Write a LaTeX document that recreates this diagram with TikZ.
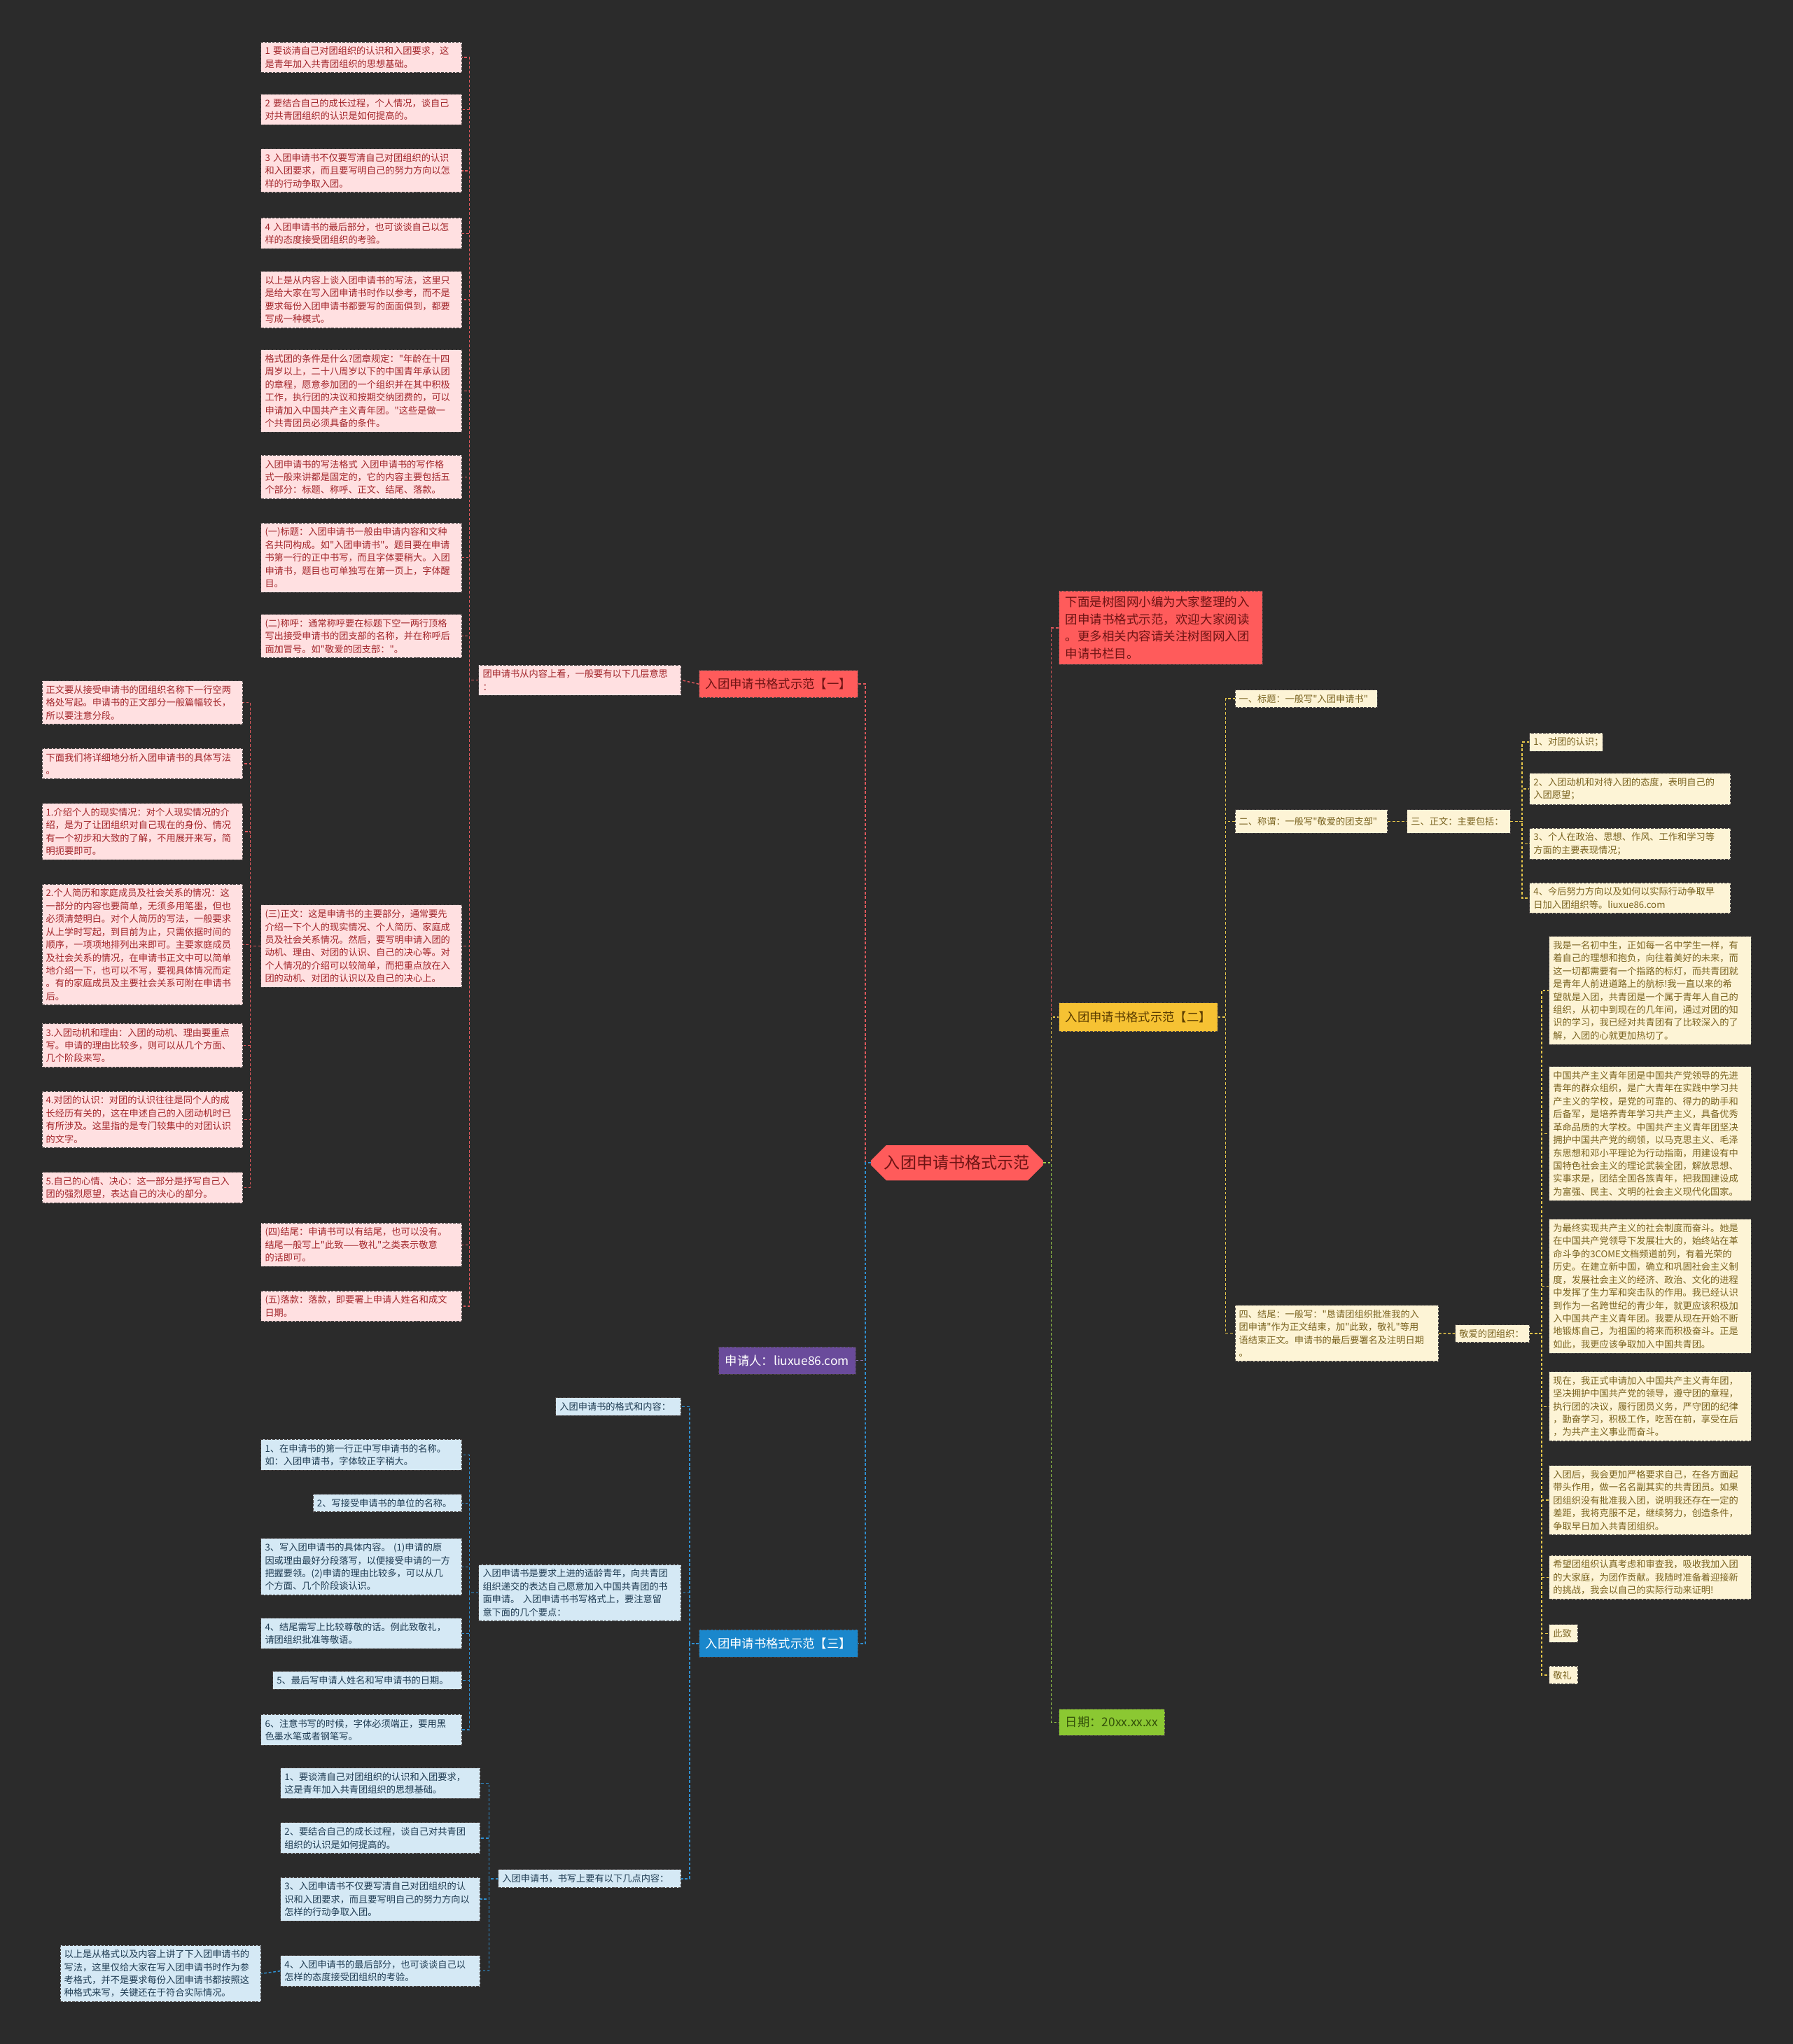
\documentclass[tikz,border=0pt]{standalone}
\usepackage{fontspec}
\newfontfamily\cjk{Noto Sans CJK SC}
\usetikzlibrary{shapes.misc}
\definecolor{bgcol}{HTML}{2B2B2B}
\definecolor{redmain}{HTML}{FF5B5B}
\definecolor{redtext}{HTML}{6E1414}
\definecolor{pinkfill}{HTML}{FFE0E1}
\definecolor{pinktext}{HTML}{A3262B}
\definecolor{pinkline}{HTML}{E0585C}
\definecolor{bluemain}{HTML}{1A87CC}
\definecolor{bluefill}{HTML}{D5E9F5}
\definecolor{bluetext}{HTML}{1E3B52}
\definecolor{blueline}{HTML}{2F8FD0}
\definecolor{purplemain}{HTML}{6A4B9B}
\definecolor{yellowmain}{HTML}{F6C233}
\definecolor{yellowtext}{HTML}{5A3C00}
\definecolor{creamfill}{HTML}{FDF4D6}
\definecolor{creamtext}{HTML}{7A6320}
\definecolor{yellowline}{HTML}{E6C64A}
\definecolor{greenmain}{HTML}{8BC832}
\definecolor{greentext}{HTML}{34520A}
\definecolor{greenline}{HTML}{9ACD4A}
\definecolor{boxedge}{HTML}{4A4444}
\newcommand\boxfont{\cjk\fontsize{7.1}{9.9}\selectfont}
\newcommand\branchfont{\cjk\fontsize{9.3}{11}\selectfont}

\begin{document}
\begin{tikzpicture}[x=1pt,y=-1pt,
    txtbox/.style={draw=boxedge, dash pattern=on 2pt off 1pt, line width=0.5pt,
      anchor=north west, align=left, inner xsep=3pt, inner ysep=3.5pt, font=\boxfont},
    pinkbox/.style={txtbox, fill=pinkfill, text=pinktext, text width=148pt},
    bluebox/.style={txtbox, fill=bluefill, text=bluetext, text width=148pt},
    creambox/.style={txtbox, fill=creamfill, text=creamtext, text width=149pt},
    branch/.style={draw=boxedge, dash pattern=on 2pt off 1pt, line width=0.5pt,
      anchor=north west, font=\branchfont, inner xsep=5pt, inner ysep=0pt, minimum height=21pt},
    redlink/.style={draw=pinkline, line width=0.8pt, dash pattern=on 2pt off 1.5pt},
    bluelink/.style={draw=blueline, line width=0.8pt, dash pattern=on 2pt off 1.5pt},
    purplelink/.style={draw=purplemain!80!white, line width=0.8pt, dash pattern=on 2pt off 1.5pt},
    yellowlink/.style={draw=yellowline, line width=0.8pt, dash pattern=on 2pt off 1.5pt},
    greenlink/.style={draw=greenline, line width=0.8pt, dash pattern=on 2pt off 1.5pt}]

  \fill[bgcol] (0,0) rectangle (1375,1568);
  \useasboundingbox (0,0) rectangle (1375,1568);

  \node (root) at (734,892) [chamfered rectangle, chamfered rectangle xsep=6pt,
    chamfered rectangle ysep=6pt, fill=redmain, text=redtext,
    minimum width=132pt, minimum height=27pt, inner sep=0pt,
    font=\cjk\fontsize{12.4}{14}\selectfont] {入团申请书格式示范};

  % left side
  \node (one) at (536,514) [branch, fill=redmain, text=redtext] {入团申请书格式示范【一】};
    \draw[redlink] (root.west) -- ++(-4,0) |- (one.east);
  \node (apply) at (551,1033) [branch, fill=purplemain, text=white] {申请人：liuxue86.com};
    \draw[purplelink] (root.west) -- ++(-4,0) |- (apply.east);
  \node (three) at (536,1250) [branch, fill=bluemain, text=white] {入团申请书格式示范【三】};
    \draw[bluelink] (root.west) -- ++(-4,0) |- (three.east);

  \node (layers) at (367,510) [pinkbox, text width=149pt] {团申请书从内容上看，一般要有以下几层意思\\：};
    \draw[redlink] (one.west) -- (layers.east);

  \node (p1) at (200,32) [pinkbox] {1 要谈清自己对团组织的认识和入团要求，这\\是青年加入共青团组织的思想基础。};
  \node (p2) at (200,72) [pinkbox] {2 要结合自己的成长过程，个人情况，谈自己\\对共青团组织的认识是如何提高的。};
  \node (p3) at (200,114) [pinkbox] {3 入团申请书不仅要写清自己对团组织的认识\\和入团要求，而且要写明自己的努力方向以怎\\样的行动争取入团。};
  \node (p4) at (200,167) [pinkbox] {4 入团申请书的最后部分，也可谈谈自己以怎\\样的态度接受团组织的考验。};
  \node (p5) at (200,208) [pinkbox] {以上是从内容上谈入团申请书的写法，这里只\\是给大家在写入团申请书时作以参考，而不是\\要求每份入团申请书都要写的面面俱到，都要\\写成一种模式。};
  \node (p6) at (200,268) [pinkbox] {格式团的条件是什么?团章规定："年龄在十四\\周岁以上，二十八周岁以下的中国青年承认团\\的章程，愿意参加团的一个组织并在其中积极\\工作，执行团的决议和按期交纳团费的，可以\\申请加入中国共产主义青年团。"这些是做一\\个共青团员必须具备的条件。};
  \node (p7) at (200,349) [pinkbox] {入团申请书的写法格式~入团申请书的写作格\\式一般来讲都是固定的，它的内容主要包括五\\个部分：标题、称呼、正文、结尾、落款。};
  \node (p8) at (200,401) [pinkbox] {(一)标题：入团申请书一般由申请内容和文种\\名共同构成。如"入团申请书"。题目要在申请\\书第一行的正中书写，而且字体要稍大。入团\\申请书，题目也可单独写在第一页上，字体醒\\目。};
  \node (p9) at (200,471) [pinkbox] {(二)称呼：通常称呼要在标题下空一两行顶格\\写出接受申请书的团支部的名称，并在称呼后\\面加冒号。如"敬爱的团支部："。};
  \node (body) at (200,694) [pinkbox] {(三)正文：这是申请书的主要部分，通常要先\\介绍一下个人的现实情况、个人简历、家庭成\\员及社会关系情况。然后，要写明申请入团的\\动机、理由、对团的认识、自己的决心等。对\\个人情况的介绍可以较简单，而把重点放在入\\团的动机、对团的认识以及自己的决心上。};
  \node (ending) at (200,938) [pinkbox] {(四)结尾：申请书可以有结尾，也可以没有。\\结尾一般写上"此致——敬礼"之类表示敬意\\的话即可。};
  \node (sign) at (200,990) [pinkbox] {(五)落款：落款，即要署上申请人姓名和成文\\日期。};
  \foreach \n in {p1,p2,p3,p4,p5,p6,p7,p8,p9,body,ending,sign}
    \draw[redlink] (layers.west) -- ++(-7,0) |- (\n.east);

  \node (l1) at (32,522) [pinkbox] {正文要从接受申请书的团组织名称下一行空两\\格处写起。申请书的正文部分一般篇幅较长，\\所以要注意分段。};
  \node (l2) at (32,574) [pinkbox] {下面我们将详细地分析入团申请书的具体写法\\。};
  \node (l3) at (32,616) [pinkbox] {1.介绍个人的现实情况：对个人现实情况的介\\绍，是为了让团组织对自己现在的身份、情况\\有一个初步和大致的了解，不用展开来写，简\\明扼要即可。};
  \node (l4) at (32,678) [pinkbox] {2.个人简历和家庭成员及社会关系的情况：这\\一部分的内容也要简单，无须多用笔墨，但也\\必须清楚明白。对个人简历的写法，一般要求\\从上学时写起，到目前为止，只需依据时间的\\顺序，一项项地排列出来即可。主要家庭成员\\及社会关系的情况，在申请书正文中可以简单\\地介绍一下，也可以不写，要视具体情况而定\\。有的家庭成员及主要社会关系可附在申请书\\后。};
  \node (l5) at (32,785) [pinkbox] {3.入团动机和理由：入团的动机、理由要重点\\写。申请的理由比较多，则可以从几个方面、\\几个阶段来写。};
  \node (l6) at (32,837) [pinkbox] {4.对团的认识：对团的认识往往是同个人的成\\长经历有关的，这在申述自己的入团动机时已\\有所涉及。这里指的是专门较集中的对团认识\\的文字。};
  \node (l7) at (32,899) [pinkbox] {5.自己的心情、决心：这一部分是抒写自己入\\团的强烈愿望，表达自己的决心的部分。};
  \foreach \n in {l1,l2,l3,l4,l5,l6,l7}
    \draw[redlink] (body.west) -- ++(-8,0) |- (\n.east);

  \node (form) at (426,1072) [bluebox, text width=90pt] {入团申请书的格式和内容：};
  \node (points) at (367,1200) [bluebox, text width=149pt] {入团申请书是要求上进的适龄青年，向共青团\\组织递交的表达自己愿意加入中国共青团的书\\面申请。 入团申请书书写格式上，要注意留\\意下面的几个要点：};
  \node (items) at (382,1434) [bluebox, text width=134pt] {入团申请书，书写上要有以下几点内容：};
  \foreach \n in {form,points,items}
    \draw[bluelink] (three.west) -- ++(-7,0) |- (\n.east);

  \node (c1) at (200,1104) [bluebox] {1、在申请书的第一行正中写申请书的名称。\\如：入团申请书，字体较正字稍大。};
  \node (c2) at (240,1146) [bluebox, text width=108pt] {2、写接受申请书的单位的名称。};
  \node (c3) at (200,1180) [bluebox] {3、写入团申请书的具体内容。 (1)申请的原\\因或理由最好分段落写，以便接受申请的一方\\把握要领。(2)申请的理由比较多，可以从几\\个方面、几个阶段谈认识。};
  \node (c4) at (200,1241) [bluebox] {4、结尾需写上比较尊敬的话。例此致敬礼，\\请团组织批准等敬语。};
  \node (c5) at (209,1282) [bluebox, text width=139pt] {5、最后写申请人姓名和写申请书的日期。};
  \node (c6) at (200,1315) [bluebox] {6、注意书写的时候，字体必须端正，要用黑\\色墨水笔或者钢笔写。};
  \foreach \n in {c1,c2,c3,c4,c5,c6}
    \draw[bluelink] (points.west) -- ++(-7,0) |- (\n.east);

  \node (d1) at (215,1356) [bluebox, text width=147pt] {1、要谈清自己对团组织的认识和入团要求，\\这是青年加入共青团组织的思想基础。};
  \node (d2) at (215,1398) [bluebox, text width=147pt] {2、要结合自己的成长过程，谈自己对共青团\\组织的认识是如何提高的。};
  \node (d3) at (215,1440) [bluebox, text width=147pt] {3、入团申请书不仅要写清自己对团组织的认\\识和入团要求，而且要写明自己的努力方向以\\怎样的行动争取入团。};
  \node (d4) at (215,1500) [bluebox, text width=147pt] {4、入团申请书的最后部分，也可谈谈自己以\\怎样的态度接受团组织的考验。};
  \foreach \n in {d1,d2,d3,d4}
    \draw[bluelink] (items.west) -- ++(-7,0) |- (\n.east);

  \node (summary) at (46,1492) [bluebox] {以上是从格式以及内容上讲了下入团申请书的\\写法，这里仅给大家在写入团申请书时作为参\\考格式，并不是要求每份入团申请书都按照这\\种格式来写，关键还在于符合实际情况。};
    \draw[bluelink] (d4.west) -- (summary.east);

  % right side
  \node (intro) at (812,453) [draw=boxedge, dash pattern=on 2pt off 1pt, line width=0.5pt,
    anchor=north west, fill=redmain, text=redtext, align=left, text width=146pt,
    inner xsep=5pt, inner ysep=4pt, font=\cjk\fontsize{9.4}{13.3}\selectfont]
    {下面是树图网小编为大家整理的入\\团申请书格式示范，欢迎大家阅读\\。更多相关内容请关注树图网入团\\申请书栏目。};
    \draw[redlink] (root.east) -- ++(6,0) |- (intro.west);
  \node (two) at (812,769) [branch, fill=yellowmain, text=yellowtext, minimum height=22pt] {入团申请书格式示范【二】};
    \draw[yellowlink] (root.east) -- ++(6,0) |- (two.west);
  \node (date) at (812,1311) [branch, fill=greenmain, text=greentext, minimum height=20pt] {日期：20xx.xx.xx};
    \draw[greenlink] (root.east) -- ++(6,0) |- (date.west);

  \node (title) at (947,529) [creambox, text width=103pt] {一、标题：一般写"入团申请书"};
  \node (salute) at (947,621) [creambox, text width=111pt, minimum height=18pt] {二、称谓：一般写"敬爱的团支部"};
  \node (close) at (947,1001) [creambox, text width=150pt] {四、结尾：一般写："恳请团组织批准我的入\\团申请"作为正文结束，加"此致，敬礼"等用\\语结束正文。申请书的最后要署名及注明日期\\。};
  \foreach \n in {title,salute,close}
    \draw[yellowlink] (two.east) -- ++(6,0) |- (\n.west);

  \node (main) at (1079,621) [creambox, text width=73pt, minimum height=18pt] {三、正文：主要包括：};
    \draw[yellowlink] (salute.east) -- (main.west);
  \node (z1) at (1173,562) [creambox, text width=50pt] {1、对团的认识；};
  \node (z2) at (1173,593) [creambox, text width=148pt] {2、入团动机和对待入团的态度，表明自己的\\入团愿望；};
  \node (z3) at (1173,635) [creambox, text width=148pt] {3、个人在政治、思想、作风、工作和学习等\\方面的主要表现情况；};
  \node (z4) at (1173,677) [creambox, text width=148pt] {4、今后努力方向以及如何以实际行动争取早\\日加入团组织等。liuxue86.com};
  \foreach \n in {z1,z2,z3,z4}
    \draw[yellowlink] (main.east) -- ++(9,0) |- (\n.west);

  \node (dear) at (1116,1016) [creambox, text width=51pt] {敬爱的团组织：};
    \draw[yellowlink] (close.east) -- (dear.west);

  \node (k1) at (1188,718) [creambox] {我是一名初中生，正如每一名中学生一样，有\\着自己的理想和抱负，向往着美好的未来，而\\这一切都需要有一个指路的标灯，而共青团就\\是青年人前进道路上的航标!我一直以来的希\\望就是入团，共青团是一个属于青年人自己的\\组织，从初中到现在的几年间，通过对团的知\\识的学习，我已经对共青团有了比较深入的了\\解，入团的心就更加热切了。};
  \node (k2) at (1188,818) [creambox] {中国共产主义青年团是中国共产党领导的先进\\青年的群众组织，是广大青年在实践中学习共\\产主义的学校，是党的可靠的、得力的助手和\\后备军，是培养青年学习共产主义，具备优秀\\革命品质的大学校。中国共产主义青年团坚决\\拥护中国共产党的纲领，以马克思主义、毛泽\\东思想和邓小平理论为行动指南，用建设有中\\国特色社会主义的理论武装全团，解放思想、\\实事求是，团结全国各族青年，把我国建设成\\为富强、民主、文明的社会主义现代化国家。};
  \node (k3) at (1188,935) [creambox] {为最终实现共产主义的社会制度而奋斗。她是\\在中国共产党领导下发展壮大的，始终站在革\\命斗争的3COME文档频道前列，有着光荣的\\历史。在建立新中国，确立和巩固社会主义制\\度，发展社会主义的经济、政治、文化的进程\\中发挥了生力军和突击队的作用。我已经认识\\到作为一名跨世纪的青少年，就更应该积极加\\入中国共产主义青年团。我要从现在开始不断\\地锻炼自己，为祖国的将来而积极奋斗。正是\\如此，我更应该争取加入中国共青团。};
  \node (k4) at (1188,1052) [creambox] {现在，我正式申请加入中国共产主义青年团，\\坚决拥护中国共产党的领导，遵守团的章程，\\执行团的决议，履行团员义务，严守团的纪律\\，勤奋学习，积极工作，吃苦在前，享受在后\\，为共产主义事业而奋斗。};
  \node (k5) at (1188,1124) [creambox] {入团后，我会更加严格要求自己，在各方面起\\带头作用，做一名名副其实的共青团员。如果\\团组织没有批准我入团，说明我还存在一定的\\差距，我将克服不足，继续努力，创造条件，\\争取早日加入共青团组织。};
  \node (k6) at (1188,1193) [creambox] {希望团组织认真考虑和审查我，吸收我加入团\\的大家庭，为团作贡献。我随时准备着迎接新\\的挑战，我会以自己的实际行动来证明!};
  \node (k7) at (1188,1246) [creambox, text width=16pt] {此致};
  \node (k8) at (1188,1278) [creambox, text width=16pt] {敬礼};
  \foreach \n in {k1,k2,k3,k4,k5,k6,k7,k8}
    \draw[yellowlink] (dear.east) -- ++(9,0) |- (\n.west);
\end{tikzpicture}
\end{document}
